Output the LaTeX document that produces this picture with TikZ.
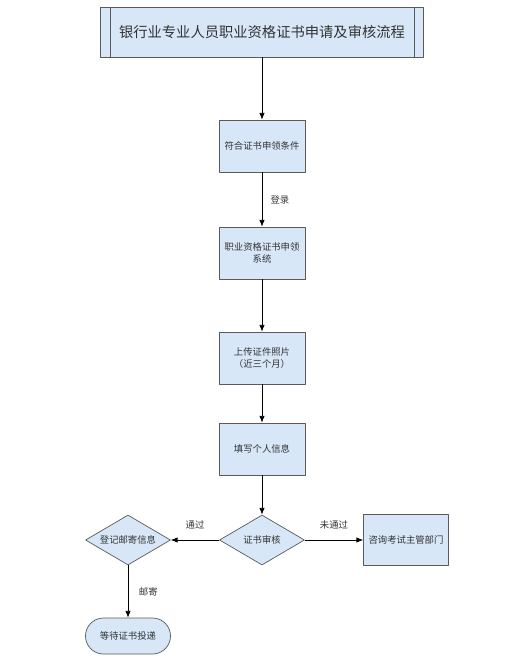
\documentclass[tikz,border=0pt]{standalone}
\usepackage{fontspec}
\setmainfont{Noto Sans CJK SC}
\usepackage{tikz}
\usetikzlibrary{arrows.meta,positioning,calc,shapes.geometric}
\definecolor{ink}{HTML}{333333}
\definecolor{edge}{HTML}{5A5A5A}
\definecolor{boxfill}{HTML}{D8E7F8}
\tikzset{
  arr/.style={-{Latex[length=2mm,width=1.6mm]}, line width=0.6pt, draw=black},
  figbase/.style={
    font=\fontsize{8}{10}\selectfont,
    color=ink,
    line join=round,
  },
  procbox/.style={
    draw=edge, line width=0.6pt, fill=boxfill,
    align=center, text=ink, inner sep=2pt,
    minimum width=2.58cm, minimum height=1.56cm,
  },
  titlebox/.style={procbox, minimum width=9.69cm, minimum height=1.5cm,
    font=\fontsize{12.2}{15}\selectfont},
  decision/.style={
    diamond, draw=edge, line width=0.6pt, fill=boxfill,
    align=center, text=ink, inner sep=0pt, aspect=1.7,
    minimum width=2.55cm, minimum height=1.5cm,
  },
  terminal/.style={procbox, rounded corners=0.54cm,
    minimum width=2.55cm, minimum height=1.08cm},
  lab/.style={font=\fontsize{8}{10}\selectfont, text=ink, inner sep=1pt},
}
\begin{document}
\begin{tikzpicture}[figbase, x=0.03cm, y=-0.03cm]
  \useasboundingbox (0,0) rectangle (523,659);

  \node[titlebox] (title) at (262,32) {银行业专业人员职业资格证书申请及审核流程};
  \draw[draw=edge, line width=0.6pt]
    ($(title.north west)+(10,0)$) -- ($(title.south west)+(10,0)$)
    ($(title.north east)+(-10,0)$) -- ($(title.south east)+(-10,0)$);

  \node[procbox] (cond) at (262,146) {符合证书申领条件};
  \node[procbox] (sys) at (262,253) {职业资格证书申领\\系统};
  \node[procbox] (photo) at (262,358) {上传证件照片\\（近三个月）};
  \node[procbox] (info) at (262,449) {填写个人信息};
  \node[decision] (audit) at (262,540) {证书审核};
  \node[decision] (mail) at (128,540) {登记邮寄信息};
  \node[procbox, minimum width=2.55cm, minimum height=1.53cm] (dept) at (406,540) {咨询考试主管部门};
  \node[terminal] (wait) at (128,636) {等待证书投递};

  \draw[arr] (title) -- (cond);
  \draw[arr] (cond) -- node[lab, right=6pt] {登录} (sys);
  \draw[arr] (sys) -- (photo);
  \draw[arr] (photo) -- (info);
  \draw[arr] (info) -- (audit);
  \draw[arr] (audit) -- node[lab, above=8pt] {通过} (mail);
  \draw[arr] (audit) -- node[lab, above=8pt] {未通过} (dept);
  \draw[arr] (mail) -- node[lab, right=8pt] {邮寄} (wait);
\end{tikzpicture}
\end{document}
